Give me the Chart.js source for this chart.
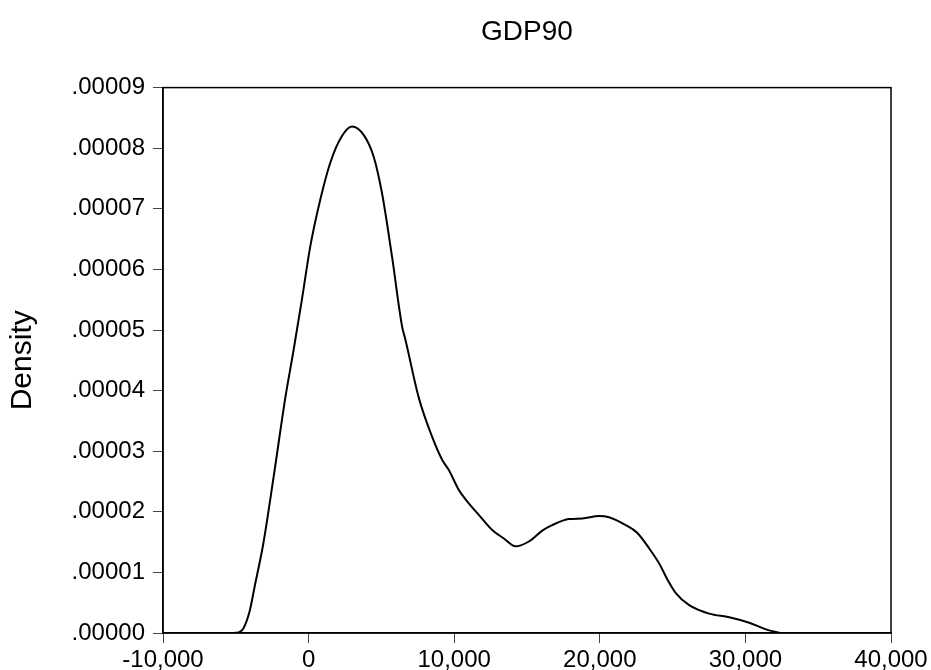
<!DOCTYPE html>
<html>
<head>
<meta charset="utf-8">
<script src="https://cdn.jsdelivr.net/npm/chart.js@4/dist/chart.umd.min.js"></script>
<style>
  html, body { margin: 0; padding: 0; background: #fff; }
  #wrap { width: 931px; height: 670px; }
</style>
</head>
<body>
<div id="wrap"><canvas id="c" width="931" height="670"></canvas></div>
<script>
// ---- data ----
const chartTitle = "GDP90";
const yAxisTitle = "Density";
const gdpValues = [
  -5300, -4800, -4470, -4060, -3710, -3100, -2400, -1600, -1030, -460,
  115, 800, 1490, 2290, 2980, 3780, 4470, 5040, 5730, 6420,
  6650, 7570, 8480, 9170, 9630, 10320, 11000, 11690, 12610, 13410,
  14210, 15130, 16050, 16730, 17880, 18800, 19950, 20630, 21780, 22580,
  23380, 24070, 24650, 25220, 26140, 27510, 28890, 30260, 31410, 32440
];
const densityValues = [
  0.0000000, 0.0000001, 0.0000008, 0.0000035, 0.0000076, 0.0000149, 0.0000258, 0.0000388, 0.0000467, 0.0000550,
  0.0000638, 0.0000715, 0.0000776, 0.0000820, 0.0000836, 0.0000822, 0.0000786, 0.0000726, 0.0000621, 0.0000506,
  0.0000484, 0.0000388, 0.0000324, 0.0000286, 0.0000269, 0.0000236, 0.0000214, 0.0000195, 0.0000170, 0.0000156,
  0.0000143, 0.0000151, 0.0000169, 0.0000178, 0.0000188, 0.0000189, 0.0000193, 0.0000191, 0.0000178, 0.0000165,
  0.0000140, 0.0000115, 0.0000088, 0.0000066, 0.0000046, 0.0000032, 0.0000026, 0.0000017, 0.0000006, 0.0000000
];
const xTickValues = [-10000, 0, 10000, 20000, 30000, 40000];
const xTickLabels = ["-10,000", "0", "10,000", "20,000", "30,000", "40,000"];
const yTickValues = [0, 0.00001, 0.00002, 0.00003, 0.00004, 0.00005, 0.00006, 0.00007, 0.00008, 0.00009];
const yTickLabels = [".00000", ".00001", ".00002", ".00003", ".00004", ".00005", ".00006", ".00007", ".00008", ".00009"];

const points = gdpValues.map((x, i) => ({ x: x, y: densityValues[i] }));

function labelFor(values, labels, v) {
  for (let i = 0; i < values.length; i++) {
    if (Math.abs(values[i] - v) < 1e-12 * Math.max(1, Math.abs(v)) + 1e-12) return labels[i];
  }
  return "";
}

const frame = {
  id: 'frame',
  afterDatasetsDraw(chart) {
    const a = chart.chartArea;
    const ctx = chart.ctx;
    ctx.save();
    ctx.strokeStyle = '#000';
    ctx.lineWidth = 1.5;
    ctx.strokeRect(a.left, a.top, a.right - a.left, a.bottom - a.top);
    ctx.restore();
  }
};

const FONT = "'Liberation Sans', Arial, sans-serif";

new Chart(document.getElementById('c'), {
  type: 'line',
  data: {
    datasets: [{
      data: points,
      borderColor: '#000',
      borderWidth: 2,
      pointRadius: 0,
      fill: false,
      cubicInterpolationMode: 'monotone'
    }]
  },
  options: {
    responsive: false,
    animation: false,
    devicePixelRatio: 1,
    layout: { padding: { left: 0, right: 40, top: 0, bottom: 0 } },
    plugins: {
      legend: { display: false },
      tooltip: { enabled: false },
      title: {
        display: true,
        text: chartTitle,
        fullSize: false,
        color: '#000',
        font: { family: FONT, size: 28, weight: 'normal' },
        padding: { top: 15, bottom: 39 }
      }
    },
    scales: {
      x: {
        type: 'linear',
        min: -10000,
        max: 40000,
        afterBuildTicks(scale) { scale.ticks = xTickValues.map(v => ({ value: v })); },
        afterFit(scale) { scale.height = 37; },
        ticks: {
          color: '#000',
          font: { family: FONT, size: 24 },
          padding: 3,
          maxRotation: 0,
          autoSkip: false,
          callback: (v) => labelFor(xTickValues, xTickLabels, v)
        },
        grid: { drawOnChartArea: false, drawTicks: true, tickLength: 10, color: '#444', lineWidth: 1 },
        border: { display: true, color: '#000', width: 1.5 }
      },
      y: {
        type: 'linear',
        min: 0,
        max: 0.00009,
        afterBuildTicks(scale) { scale.ticks = yTickValues.map(v => ({ value: v })); },
        afterFit(scale) { scale.width = 163; },
        ticks: {
          color: '#000',
          font: { family: FONT, size: 24 },
          padding: 8,
          autoSkip: false,
          callback: (v) => labelFor(yTickValues, yTickLabels, v)
        },
        title: {
          display: true,
          text: yAxisTitle,
          color: '#000',
          font: { family: FONT, size: 30 },
          padding: { top: 5, bottom: 0 }
        },
        grid: { drawOnChartArea: false, drawTicks: true, tickLength: 10, color: '#444', lineWidth: 1 },
        border: { display: true, color: '#000', width: 1.5 }
      }
    }
  },
  plugins: [frame]
});
</script>
</body>
</html>
